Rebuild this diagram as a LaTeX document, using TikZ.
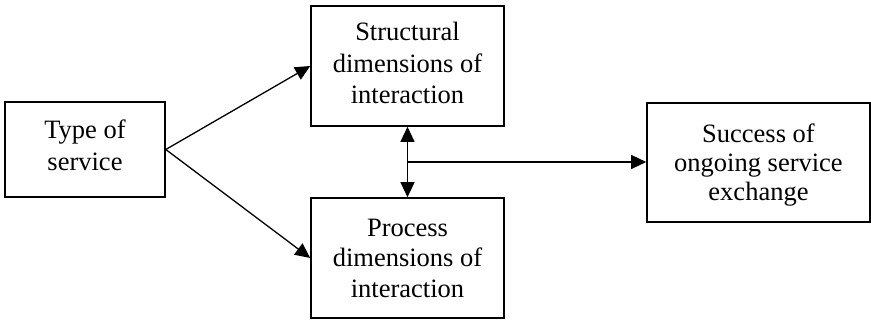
\documentclass[tikz,border=0pt]{standalone}
\usepackage{fontspec}
\setmainfont{Liberation Serif}
\usetikzlibrary{arrows.meta,calc}
\begin{document}
\begin{tikzpicture}[x=1pt,y=1pt,
  box/.style={draw, line width=1.6pt, inner sep=0pt},
  caption/.style={align=center, inner sep=0pt, font=\fontsize{26.5}{#1}\selectfont},
  caption/.default=31,
  link/.style={line width=1.3pt, -{Triangle[length=15pt,width=14pt]}},
  biarrow/.style={line width=1.3pt, {Triangle[length=15pt,width=14pt]}-{Triangle[length=15pt,width=14pt]}}]
  \useasboundingbox (0,0) rectangle (871,320);
  % boxes
  \node[box, minimum width=160pt, minimum height=95pt] (type) at (85,170.5) {};
  \node[box, minimum width=193pt, minimum height=120pt] (struct) at (407.5,254) {};
  \node[box, minimum width=193pt, minimum height=120pt] (proc) at (407.5,62) {};
  \node[box, minimum width=223pt, minimum height=119pt] (success) at (758.5,157.5) {};
  % box texts
  \node[caption=32] (typeText) at ([yshift=4pt]type.center) {Type of\\service};
  \node[caption=31.5] (structText) at ([yshift=3pt]struct.center) {Structural\\dimensions of\\interaction};
  \node[caption=30.5] (procText) at (proc.center) {Process\\dimensions of\\interaction};
  \node[caption=29] (successText) at ([yshift=-3pt]success.center) {Success of\\ongoing service\\exchange};
  % connectors
  \draw[link] (type.east) -- (struct.west);
  \draw[link] (type.east) -- (proc.west);
  \draw[biarrow] (struct.south) -- (proc.north);
  \coordinate (mid) at ($(struct.south)!0.5!(proc.north)$);
  \draw[link] (mid) -- (mid -| success.west);
\end{tikzpicture}
\end{document}
